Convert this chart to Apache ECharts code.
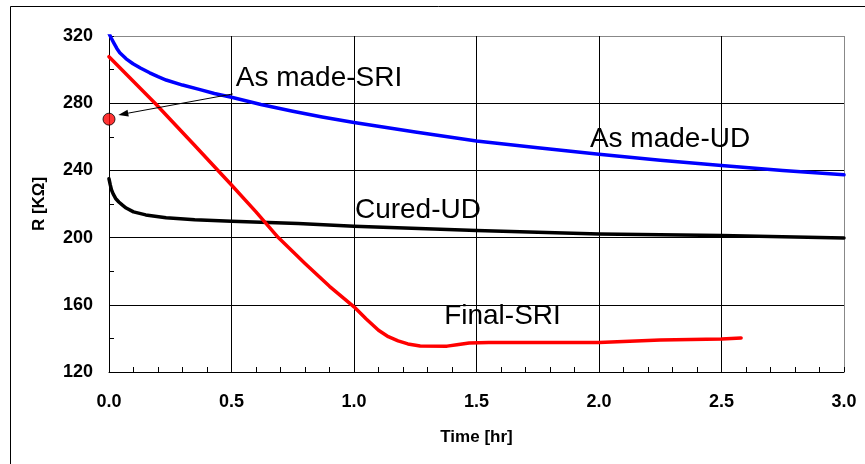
<!DOCTYPE html>
<html>
<head>
<meta charset="utf-8">
<script src="https://cdn.jsdelivr.net/npm/echarts@6/dist/echarts.min.js"></script>
<style>
html,body{margin:0;padding:0;background:#fff;}
#chart{width:865px;height:464px;}
</style>
</head>
<body>
<div id="chart"></div>
<script>
// ---- data ----
var timeAsMadeUD = [0, 0.01, 0.02, 0.032, 0.044, 0.07, 0.098, 0.13, 0.166, 0.2, 0.233, 0.3, 0.368, 0.43, 0.5, 0.62, 0.75, 0.87, 1.0, 1.25, 1.5, 1.75, 2.0, 2.25, 2.5, 2.75, 3.0];
var rAsMadeUD    = [321.5, 318.5, 315.8, 312.6, 310, 306.4, 303.5, 300.8, 298.1, 295.8, 293.8, 290.8, 288.2, 285.8, 283.5, 279.2, 275.2, 271.8, 268.5, 262.9, 257.5, 253.5, 249.6, 246, 242.9, 240, 237.4];

var timeCuredUD = [0, 0.005, 0.01, 0.017, 0.027, 0.04, 0.055, 0.07, 0.1, 0.15, 0.233, 0.35, 0.5, 0.772, 1.0, 1.5, 2.0, 2.5, 3.0];
var rCuredUD    = [235, 231.5, 228.5, 226, 223.3, 221.2, 219.3, 217.6, 215.3, 213.5, 211.8, 210.6, 209.8, 208.4, 206.8, 204.2, 202.2, 201.2, 199.8];

var timeFinalSRI = [0, 0.188, 0.35, 0.5, 0.6, 0.691, 0.8, 0.9, 1.0, 1.05, 1.1, 1.14, 1.18, 1.22, 1.27, 1.38, 1.42, 1.47, 1.55, 2.0, 2.25, 2.5, 2.58];
var rFinalSRI    = [307.7, 280, 254.8, 231.3, 215.3, 200, 184.6, 171, 158.8, 151.6, 144.8, 141, 138.5, 136.7, 135.5, 135.4, 136.2, 137.2, 137.5, 137.5, 139, 139.7, 140.3];

var timeAsMadeSRI = [0];
var rAsMadeSRI    = [270.5];

var xTickLabels = ['0.0', '0.5', '1.0', '1.5', '2.0', '2.5', '3.0'];
var yTickLabels = ['120', '160', '200', '240', '280', '320'];

// label anchors (data coordinates)
var seriesLabels = ['As made-SRI', 'As made-UD', 'Cured-UD', 'Final-SRI'];
var labelTime    = [0.857, 2.290, 1.261, 1.606];
var labelR       = [295.1, 258.4, 216.2, 153.1];
var arrowFrom    = [0.505, 285.5];
var arrowTo      = [0.038, 273.0];

function pairs(ts, vs){ return ts.map(function(t,i){ return [t, vs[i]]; }); }

var FONT = "'Liberation Sans', Arial, sans-serif";
var chart = echarts.init(document.getElementById('chart'), null, {renderer:'canvas'});

var option = {
  animation: false,
  backgroundColor: '#ffffff',
  grid: { left: 109, right: 21, top: 36, bottom: 92, containLabel: false },
  xAxis: {
    type: 'value', min: 0, max: 3, interval: 0.5,
    name: 'Time [hr]', nameLocation: 'middle', nameGap: 57,
    nameTextStyle: { fontFamily: FONT, fontWeight: 'bold', fontSize: 17, color: '#000' },
    axisLine: { show: true, onZero: false, lineStyle: { color: '#000', width: 1 } },
    axisTick: { show: true, inside: true, length: 5, lineStyle: { color: '#000' } },
    minorTick: { show: true, splitNumber: 5, length: 5, lineStyle: { color: '#000' } },
    axisLabel: { fontFamily: FONT, fontWeight: 'bold', fontSize: 18, color: '#000', margin: 21,
      formatter: function(v){ return xTickLabels[Math.round(v/0.5)]; } },
    splitLine: { show: true, lineStyle: { color: ['#000','#000','#000','#000','#000','#000','#888'], width: 1 } }
  },
  yAxis: {
    type: 'value', min: 120, max: 320, interval: 40,
    name: 'R [KΩ]', nameLocation: 'middle', nameGap: 61,
    nameTextStyle: { fontFamily: FONT, fontWeight: 'bold', fontSize: 17, color: '#000' },
    axisLine: { show: true, onZero: false, lineStyle: { color: '#000', width: 1 } },
    axisTick: { show: true, inside: true, length: 5, lineStyle: { color: '#000' } },
    minorTick: { show: true, splitNumber: 2, length: 5, lineStyle: { color: '#000' } },
    axisLabel: { fontFamily: FONT, fontWeight: 'bold', fontSize: 18, color: '#000', margin: 16,
      formatter: function(v){ return yTickLabels[Math.round((v-120)/40)]; } },
    splitLine: { show: true, lineStyle: { color: ['#000','#000','#000','#000','#000','#888'], width: 1 } }
  },
  series: [
    { name: 'As made-UD', type: 'line', data: pairs(timeAsMadeUD, rAsMadeUD), showSymbol: false,
      smooth: false, clip: true,
      lineStyle: { color: '#0000ff', width: 3.5, join: 'round', cap: 'round' }, z: 3 },
    { name: 'Cured-UD', type: 'line', data: pairs(timeCuredUD, rCuredUD), showSymbol: false,
      smooth: false, clip: true,
      lineStyle: { color: '#000000', width: 3.5, join: 'round', cap: 'round' }, z: 3 },
    { name: 'Final-SRI', type: 'line', data: pairs(timeFinalSRI, rFinalSRI), showSymbol: false,
      smooth: false, clip: true,
      lineStyle: { color: '#ff0000', width: 3.5, join: 'round', cap: 'round' }, z: 4 },
    { name: 'As made-SRI', type: 'scatter', data: pairs(timeAsMadeSRI, rAsMadeSRI), clip: false,
      symbol: 'circle', symbolSize: 12,
      itemStyle: { color: '#ff0000', borderColor: '#000', borderWidth: 1 }, z: 6 }
  ]
};
chart.setOption(option);

// frame, series name annotations and arrow placed via the chart's own scales
var g = [{
  type: 'rect', silent: true, z: 0,
  shape: { x: 10.5, y: 6.5, width: 900, height: 500 },
  style: { fill: 'none', stroke: '#000', lineWidth: 1 }
}];
seriesLabels.forEach(function(txt, i){
  var p = chart.convertToPixel({gridIndex: 0}, [labelTime[i], labelR[i]]);
  g.push({
    type: 'text', silent: true, z: 10,
    x: p[0], y: p[1],
    style: { text: txt, fontFamily: FONT, fontSize: 28, fill: '#000', align: 'center', verticalAlign: 'middle' }
  });
});
var a0 = chart.convertToPixel({gridIndex: 0}, arrowFrom);
var a1 = chart.convertToPixel({gridIndex: 0}, arrowTo);
var dx = a1[0]-a0[0], dy = a1[1]-a0[1], len = Math.sqrt(dx*dx+dy*dy);
var ux = dx/len, uy = dy/len, hl = 10, hw = 3.5;
var bx = a1[0]-ux*hl, by = a1[1]-uy*hl;
g.push({ type: 'line', silent: true, z: 8,
  shape: { x1: a0[0], y1: a0[1], x2: bx, y2: by },
  style: { stroke: '#000', lineWidth: 1 } });
g.push({ type: 'polygon', silent: true, z: 8,
  shape: { points: [[a1[0], a1[1]], [bx - uy*hw, by + ux*hw], [bx + uy*hw, by - ux*hw]] },
  style: { fill: '#000' } });
chart.setOption({ graphic: g });
</script>
</body>
</html>
